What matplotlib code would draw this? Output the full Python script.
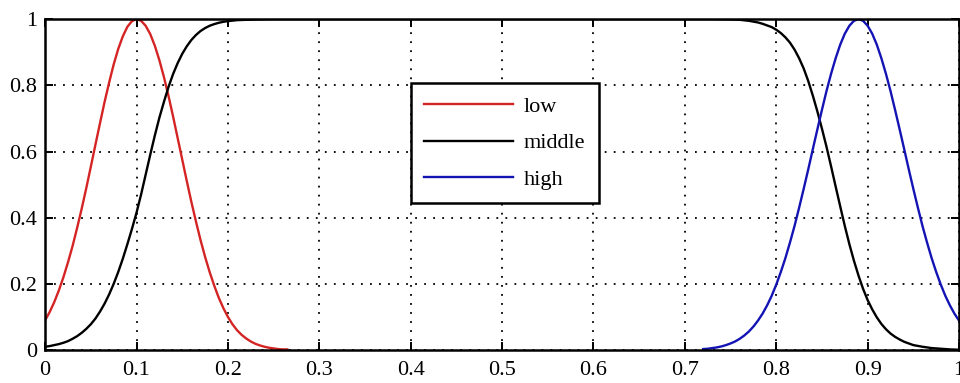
import matplotlib
matplotlib.use("Agg")
import matplotlib.pyplot as plt

# membership functions
low_x = [0.0, 0.005, 0.01, 0.015, 0.02, 0.025, 0.03, 0.035, 0.04, 0.045,
         0.05, 0.055, 0.06, 0.065, 0.07, 0.075, 0.08, 0.085, 0.09, 0.095,
         0.1, 0.105, 0.11, 0.115, 0.12, 0.125, 0.13, 0.135, 0.14, 0.145,
         0.15, 0.155, 0.16, 0.165, 0.17, 0.175, 0.18, 0.185, 0.19, 0.195,
         0.2, 0.205, 0.21, 0.215, 0.22, 0.225, 0.23, 0.235, 0.24, 0.245,
         0.25, 0.255, 0.26, 0.265]
low_y = [0.090, 0.115, 0.145, 0.180, 0.220, 0.265, 0.314, 0.369, 0.427, 0.489,
         0.554, 0.620, 0.685, 0.749, 0.808, 0.863, 0.910, 0.948, 0.977, 0.994,
         1.0, 0.995, 0.980, 0.955, 0.920, 0.876, 0.825, 0.768, 0.706, 0.641,
         0.576, 0.511, 0.448, 0.389, 0.333, 0.282, 0.236, 0.195, 0.158, 0.127,
         0.100, 0.078, 0.060, 0.046, 0.035, 0.026, 0.019, 0.014, 0.010, 0.007,
         0.005, 0.003, 0.002, 0.002]

mid_x = [0.0, 0.005, 0.01, 0.015, 0.02, 0.025, 0.03, 0.035, 0.04, 0.045,
         0.05, 0.055, 0.06, 0.065, 0.07, 0.075, 0.08, 0.085, 0.09, 0.095,
         0.1, 0.105, 0.11, 0.115, 0.12, 0.125, 0.13, 0.135, 0.14, 0.145,
         0.15, 0.155, 0.16, 0.165, 0.17, 0.175, 0.18, 0.185, 0.19, 0.195,
         0.2, 0.21, 0.22, 0.23, 0.25, 0.3, 0.4, 0.5, 0.6, 0.7,
         0.73, 0.75, 0.76, 0.77, 0.78, 0.785, 0.79, 0.795, 0.8, 0.805,
         0.81, 0.815, 0.82, 0.825, 0.83, 0.835, 0.84, 0.845, 0.85, 0.855,
         0.86, 0.865, 0.87, 0.875, 0.88, 0.885, 0.89, 0.895, 0.9, 0.905,
         0.91, 0.915, 0.92, 0.925, 0.93, 0.935, 0.94, 0.945, 0.95, 0.96,
         0.97, 0.98, 0.99, 1.0]
mid_y = [0.010, 0.012, 0.015, 0.018, 0.022, 0.027, 0.034, 0.042, 0.052, 0.064,
         0.078, 0.095, 0.116, 0.140, 0.168, 0.200, 0.236, 0.276, 0.320, 0.366,
         0.415, 0.470, 0.530, 0.590, 0.648, 0.702, 0.750, 0.795, 0.834, 0.867,
         0.895, 0.918, 0.937, 0.952, 0.964, 0.973, 0.980, 0.985, 0.989, 0.992,
         0.994, 0.997, 0.998, 0.999, 1.0, 1.0, 1.0, 1.0, 1.0, 1.0,
         1.0, 0.999, 0.998, 0.995, 0.990, 0.986, 0.981, 0.976, 0.968, 0.958,
         0.945, 0.929, 0.908, 0.882, 0.851, 0.813, 0.769, 0.721, 0.669, 0.614,
         0.555, 0.494, 0.434, 0.375, 0.320, 0.270, 0.225, 0.185, 0.151, 0.123,
         0.099, 0.079, 0.063, 0.050, 0.040, 0.032, 0.025, 0.020, 0.015, 0.010,
         0.006, 0.004, 0.002, 0.001]

high_x = [0.72, 0.725, 0.73, 0.735, 0.74, 0.745, 0.75, 0.755, 0.76, 0.765,
          0.77, 0.775, 0.78, 0.785, 0.79, 0.795, 0.8, 0.805, 0.81, 0.815,
          0.82, 0.825, 0.83, 0.835, 0.84, 0.845, 0.85, 0.855, 0.86, 0.865,
          0.87, 0.875, 0.88, 0.885, 0.89, 0.895, 0.9, 0.905, 0.91, 0.915,
          0.92, 0.925, 0.93, 0.935, 0.94, 0.945, 0.95, 0.955, 0.96, 0.965,
          0.97, 0.975, 0.98, 0.985, 0.99, 0.995, 1.0]
high_y = [0.003, 0.004, 0.006, 0.008, 0.011, 0.015, 0.020, 0.026, 0.034, 0.044,
          0.056, 0.071, 0.089, 0.110, 0.135, 0.164, 0.198, 0.236, 0.278, 0.325,
          0.375, 0.430, 0.487, 0.546, 0.607, 0.667, 0.726, 0.783, 0.835, 0.882,
          0.923, 0.956, 0.980, 0.995, 1.0, 0.995, 0.980, 0.956, 0.923, 0.882,
          0.835, 0.783, 0.726, 0.667, 0.607, 0.546, 0.487, 0.430, 0.375, 0.325,
          0.278, 0.236, 0.198, 0.164, 0.135, 0.110, 0.089]

x_ticks = [0, 0.1, 0.2, 0.3, 0.4, 0.5, 0.6, 0.7, 0.8, 0.9, 1]
x_labels = ["0", "0.1", "0.2", "0.3", "0.4", "0.5", "0.6", "0.7", "0.8", "0.9", "1"]
y_ticks = [0, 0.2, 0.4, 0.6, 0.8, 1]
y_labels = ["0", "0.2", "0.4", "0.6", "0.8", "1"]

plt.rcParams["font.family"] = ["Liberation Serif", "DejaVu Serif"]

fig = plt.figure(figsize=(9.6, 3.83), dpi=100)
ax = fig.add_axes([0.047, 0.086, 0.952, 0.864])

ax.plot(low_x, low_y, color="#d42424", lw=1.7, label="low")
ax.plot(mid_x, mid_y, color="black", lw=1.7, label="middle")
ax.plot(high_x, high_y, color="#1414b4", lw=1.7, label="high")

ax.set_xlim(0, 1)
ax.set_ylim(0, 1)
ax.set_xticks(x_ticks)
ax.set_xticklabels(x_labels)
ax.set_yticks(y_ticks)
ax.set_yticklabels(y_labels)
ax.tick_params(direction="in", length=6, width=1.4, top=True, right=True,
               labelsize=16, colors="black")
ax.tick_params(axis="x", pad=8)
ax.tick_params(axis="y", pad=6)
ax.grid(True, color="black", linestyle=(0, (1, 4)), lw=1.3)

for s in ax.spines.values():
    s.set_linewidth(1.8)
    s.set_color("black")

leg = ax.legend(loc="upper left", bbox_to_anchor=(0.400, 0.807), borderaxespad=0,
                fontsize=16, handlelength=4.0, frameon=True, fancybox=False,
                edgecolor="black", framealpha=1, labelspacing=0.72,
                borderpad=0.6, handletextpad=0.5)
leg.get_frame().set_linewidth(1.8)

plt.savefig("out.png", dpi=100)
